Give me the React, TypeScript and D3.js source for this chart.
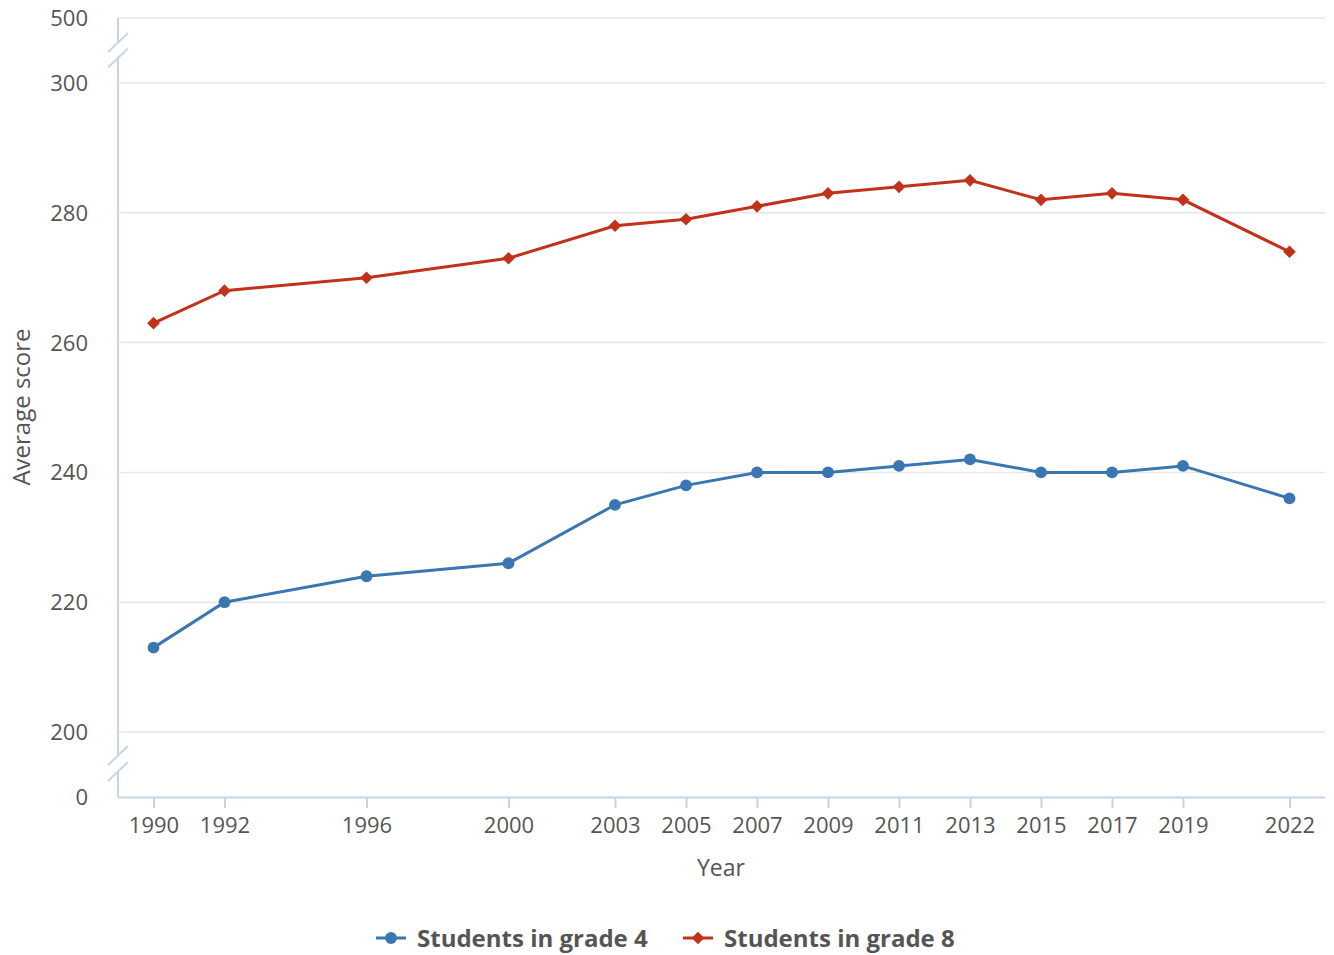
import React, { useEffect, useRef } from "react";
import * as d3 from "d3";

const years = [1990, 1992, 1996, 2000, 2003, 2005, 2007, 2009, 2011, 2013, 2015, 2017, 2019, 2022];
const grade4 = [213, 220, 224, 226, 235, 238, 240, 240, 241, 242, 240, 240, 241, 236];
const grade8 = [263, 268, 270, 273, 278, 279, 281, 283, 284, 285, 282, 283, 282, 274];
const yTicks = [0, 200, 220, 240, 260, 280, 300, 500];
const seriesNames = ["Students in grade 4", "Students in grade 8"];

function App() {
  const ref = useRef<SVGSVGElement>(null);

  useEffect(() => {
    const width = 1334;
    const height = 955;
    const left = 118, right = 1325;
    const font = "'Open Sans', sans-serif";
    const axisColor = "#c6d3e8";
    const textColor = "#555";

    const svg = d3.select(ref.current);
    svg.selectAll("*").remove();

    const x = d3.scaleLinear().domain([1989, 2023]).range([left, right]);
    // broken axis: 0..200 and 300..500 squashed
    const y = d3.scaleLinear().domain([0, 200, 300, 500]).range([797, 732, 83, 18]);

    // grid
    svg.append("g")
      .selectAll("line")
      .data(yTicks.filter(d => d > 0))
      .enter()
      .append("line")
      .attr("x1", left).attr("x2", right)
      .attr("y1", d => y(d)).attr("y2", d => y(d))
      .attr("stroke", "#e6e6e6").attr("stroke-width", 1.5);

    // y labels
    svg.append("g")
      .selectAll("text")
      .data(yTicks)
      .enter()
      .append("text")
      .attr("x", 88)
      .attr("y", d => y(d) + 8)
      .attr("text-anchor", "end")
      .attr("font-family", font).attr("font-size", 22).attr("fill", textColor)
      .text(d => d);

    // y axis line with breaks
    const breaks = [
      [y(500), 42.5, 58, y(300)],
      [y(200), 755.5, 771.5, y(0)],
    ];
    const yl = svg.append("g").attr("stroke", axisColor).attr("stroke-width", 2);
    yl.append("line").attr("x1", left).attr("x2", left).attr("y1", breaks[0][0]).attr("y2", breaks[0][1]);
    yl.append("line").attr("x1", left).attr("x2", left).attr("y1", breaks[0][2]).attr("y2", breaks[1][1]);
    yl.append("line").attr("x1", left).attr("x2", left).attr("y1", breaks[1][2]).attr("y2", breaks[1][3]);
    breaks.forEach(b => {
      [b[1], b[2]].forEach(cy => {
        yl.append("line")
          .attr("x1", left - 10).attr("y1", cy + 9.5)
          .attr("x2", left + 10).attr("y2", cy - 9.5);
      });
    });

    // x axis
    const xAxis = svg.append("g").attr("transform", `translate(0, ${y(0)})`)
      .call(d3.axisBottom(x).tickValues(years).tickFormat(d3.format("d")).tickSize(11).tickPadding(9));
    xAxis.select(".domain").attr("d", `M${left},0.5H${right}`).attr("stroke", axisColor).attr("stroke-width", 2);
    xAxis.selectAll(".tick line").attr("stroke", axisColor).attr("stroke-width", 2);
    xAxis.selectAll(".tick text").attr("font-family", font).attr("font-size", 22).attr("fill", textColor);

    // titles
    svg.append("text")
      .attr("x", 721).attr("y", 876)
      .attr("text-anchor", "middle")
      .attr("font-family", font).attr("font-size", 23).attr("fill", textColor)
      .text("Year");
    svg.append("text")
      .attr("transform", "translate(30, 407) rotate(-90)")
      .attr("text-anchor", "middle")
      .attr("font-family", font).attr("font-size", 24).attr("fill", textColor)
      .text("Average score");

    const line = d3.line<number>()
      .x((d, i) => x(years[i]))
      .y(d => y(d));

    const series = [
      { name: seriesNames[0], values: grade4, color: "#3a76b1", symbol: d3.symbolCircle, size: 110, rot: 0 },
      { name: seriesNames[1], values: grade8, color: "#c1321a", symbol: d3.symbolSquare, size: 80, rot: 45 },
    ];

    series.forEach(s => {
      svg.append("path")
        .datum(s.values)
        .attr("fill", "none")
        .attr("stroke", s.color)
        .attr("stroke-width", 3)
        .attr("d", line);
      svg.append("g")
        .selectAll("path")
        .data(s.values)
        .enter()
        .append("path")
        .attr("transform", (d, i) => `translate(${x(years[i])}, ${y(d)}) rotate(${s.rot})`)
        .attr("d", d3.symbol().type(s.symbol).size(s.size)())
        .attr("fill", s.color);
    });

    // legend
    const legendX = [376, 683];
    series.forEach((s, i) => {
      const g = svg.append("g").attr("transform", `translate(${legendX[i]}, 938)`);
      g.append("line").attr("x1", 0).attr("x2", 30).attr("stroke", s.color).attr("stroke-width", 3);
      g.append("path")
        .attr("transform", `translate(15, 0) rotate(${s.rot})`)
        .attr("d", d3.symbol().type(s.symbol).size(s.size)())
        .attr("fill", s.color);
      g.append("text")
        .attr("x", 41).attr("y", 8.5)
        .attr("font-family", font).attr("font-size", 24).attr("font-weight", "bold")
        .attr("fill", textColor)
        .text(s.name);
    });

    svg.attr("width", width).attr("height", height);
  }, []);

  return (
    <svg ref={ref} width={1334} height={955}
      style={{ position: "absolute", left: 0, top: 0, background: "#fff" }} />
  );
}

export default App;
